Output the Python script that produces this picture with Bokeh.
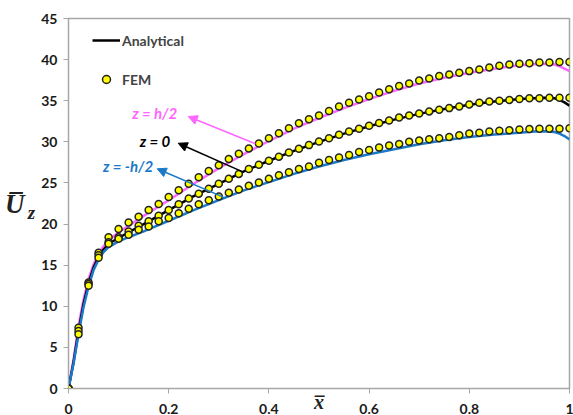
from bokeh.plotting import figure
from bokeh.models import (ColumnDataSource, Label, Legend, LegendItem, Arrow, NormalHead,
                          FixedTicker, CustomJSTickFormatter, LinearAxis)
from bokeh.embed import file_html
from bokeh.resources import INLINE

# ---------------- data ----------------
x_fem = [round(0.02 * i, 2) for i in range(51)]

fem_top = [0.0, 7.4, 12.9, 16.5, 18.4, 19.4, 20.2, 20.9, 21.7, 22.45,
           23.3, 24.1, 24.9, 25.7, 26.45, 27.15, 27.9, 28.55, 29.2, 29.8,
           30.45, 31.05, 31.65, 32.25, 32.75, 33.2, 33.75, 34.3, 34.75, 35.15,
           35.55, 36.0, 36.4, 36.8, 37.1, 37.45, 37.7, 38.0, 38.2, 38.4,
           38.6, 38.8, 39.05, 39.25, 39.4, 39.5, 39.55, 39.65, 39.65, 39.7, 39.7]

fem_mid = [0.0, 7.0, 12.7, 16.2, 17.8, 18.4, 19.1, 19.8, 20.35, 21.0,
           21.7, 22.4, 23.1, 23.7, 24.3, 24.9, 25.5, 26.1, 26.7, 27.2,
           27.7, 28.2, 28.7, 29.15, 29.6, 30.05, 30.45, 30.85, 31.25, 31.6,
           31.95, 32.3, 32.6, 32.95, 33.2, 33.45, 33.7, 33.9, 34.1, 34.3,
           34.55, 34.75, 34.9, 35.0, 35.1, 35.2, 35.3, 35.3, 35.35, 35.35, 35.35]

fem_bot = [0.0, 6.6, 12.5, 15.9, 17.6, 18.2, 18.7, 19.3, 19.7, 20.35,
           20.75, 21.3, 21.85, 22.4, 22.9, 23.35, 23.8, 24.2, 24.65, 25.05,
           25.5, 25.95, 26.3, 26.7, 27.0, 27.45, 27.8, 28.1, 28.4, 28.75,
           29.0, 29.3, 29.55, 29.75, 30.0, 30.15, 30.3, 30.45, 30.6, 30.8,
           31.0, 31.1, 31.25, 31.35, 31.4, 31.5, 31.55, 31.6, 31.6, 31.6, 31.65]

x_an = [0, 0.01, 0.02, 0.03, 0.04, 0.05, 0.06, 0.07, 0.08, 0.10, 0.12, 0.15,
        0.2, 0.25, 0.3, 0.35, 0.4, 0.45, 0.5, 0.55, 0.6, 0.65, 0.7, 0.75,
        0.8, 0.85, 0.9, 0.93, 0.95, 0.97, 0.98, 0.99, 1.0]

an_top = [0, 3.5, 7.6, 10.8, 13.3, 15.1, 16.4, 17.3, 18.0, 19.0, 19.8, 21.0,
          22.9, 24.9, 26.8, 28.5, 30.1, 31.6, 32.9, 34.1, 35.2, 36.2, 37.1, 37.8,
          38.4, 38.9, 39.3, 39.45, 39.5, 39.4, 39.2, 38.9, 38.6]

an_mid = [0, 3.2, 7.0, 10.3, 12.8, 14.7, 16.0, 16.9, 17.6, 18.3, 19.0, 20.0,
          21.7, 23.4, 24.9, 26.4, 27.7, 28.9, 30.0, 31.0, 31.9, 32.7, 33.4, 34.0,
          34.5, 34.9, 35.2, 35.3, 35.35, 35.3, 35.1, 34.8, 34.4]

an_bot = [0, 3.0, 6.6, 9.9, 12.4, 14.4, 15.7, 16.6, 17.2, 17.9, 18.4, 19.1,
          20.4, 21.7, 22.9, 24.1, 25.1, 26.1, 27.0, 27.8, 28.5, 29.1, 29.7, 30.2,
          30.6, 30.9, 31.1, 31.25, 31.3, 31.2, 31.0, 30.7, 30.3]

x_ticks = [0, 0.2, 0.4, 0.6, 0.8, 1.0]
y_ticks = [0, 5, 10, 15, 20, 25, 30, 35, 40, 45]

# ---------------- styles ----------------
PINK = "#ff66ff"
BLACK = "#000000"
BLUE = "#1b7ac8"
GRAY = "#a6a6a6"
FONT = "Lato"
SERIF = "Liberation Serif"
INK = "#222222"

p = figure(width=573, height=415, output_backend="svg", toolbar_location=None,
           x_range=(0, 1), y_range=(0, 45),
           min_border_left=68, min_border_right=4, min_border_top=18, min_border_bottom=27)
p.xgrid.visible = False
p.ygrid.visible = False
p.outline_line_color = GRAY
p.outline_line_width = 1.5

for ax in (p.xaxis[0], p.yaxis[0]):
    ax.axis_line_color = GRAY
    ax.major_tick_line_color = GRAY
    ax.minor_tick_line_color = None
    ax.major_tick_in = 0
    ax.major_tick_out = 5
    ax.major_label_text_font = FONT
    ax.major_label_text_font_style = "bold"
    ax.major_label_text_font_size = "14px"
    ax.major_label_text_color = "#1a1a1a"
    ax.axis_label_text_font = SERIF
    ax.axis_label_text_font_style = "bold italic"
    ax.axis_label_text_color = INK

p.xaxis.ticker = FixedTicker(ticks=x_ticks)
p.yaxis.ticker = FixedTicker(ticks=y_ticks)
p.xaxis.formatter = CustomJSTickFormatter(code="return tick == 0 ? '0' : (tick == 1 ? '1' : tick.toFixed(1));")
p.xaxis.major_label_standoff = 10
p.yaxis.major_label_standoff = 6

# x-axis title: overlined x, sitting on the tick-label row
p.xaxis.axis_label = "x\u0305"
p.xaxis.axis_label_text_font_size = "20px"
p.xaxis.axis_label_standoff = -26

# y-axis title: overlined U with subscript z (z on the inner axis, U on an outer one);
# leading blank lines push each piece down to its place
p.yaxis.axis_label = "\n\nz"
p.yaxis.axis_label_orientation = "horizontal"
p.yaxis.axis_label_text_font_size = "19px"
p.yaxis.axis_label_text_line_height = 0.45
p.yaxis.axis_label_standoff = 3

outer = LinearAxis(ticker=FixedTicker(ticks=[]), axis_line_color=None,
                   major_tick_line_color=None, minor_tick_line_color=None,
                   major_tick_out=0, major_tick_in=0, major_label_standoff=0,
                   axis_label="\nU\u0305", axis_label_orientation="horizontal",
                   axis_label_standoff=0, axis_label_text_font=SERIF,
                   axis_label_text_font_style="bold italic",
                   axis_label_text_line_height=0.05,
                   axis_label_text_font_size="27px", axis_label_text_color=INK)
p.add_layout(outer, "left")

lw = 2.5
r_top = p.line(x_an, an_top, line_color=PINK, line_width=lw)
r_mid = p.line(x_an, an_mid, line_color=BLACK, line_width=lw)
r_bot = p.line(x_an, an_bot, line_color=BLUE, line_width=lw)

src = ColumnDataSource(dict(x=x_fem, top=fem_top, mid=fem_mid, bot=fem_bot))
sc = None
for col in ("top", "mid", "bot"):
    sc = p.scatter("x", col, source=src, size=7, fill_color="#ffff00",
                   line_color=INK, line_width=1.5)

legend = Legend(items=[LegendItem(label="Analytical", renderers=[r_mid]),
                       LegendItem(label="FEM", renderers=[sc])],
                location=(24, 299), padding=0, margin=0, spacing=19,
                label_height=20, glyph_height=20, glyph_width=28, label_standoff=2,
                label_text_font=FONT, label_text_font_style="bold",
                label_text_font_size="14px",
                background_fill_alpha=0, border_line_alpha=0)
p.add_layout(legend)

# annotation texts with arrows
ann = [("z = h/2", PINK, 0.217, 33.45, 0.373, 29.76, 0.239, 33.08),
       ("z = 0", BLACK, 0.203, 30.08, 0.349, 26.31, 0.219, 29.83),
       ("z = -h/2", BLUE, 0.169, 27.12, 0.309, 23.27, 0.177, 26.72)]
for txt, col, tx, ty, x0, y0, x1, y1 in ann:
    p.add_layout(Label(x=tx, y=ty, text=txt, text_color=col, text_font=FONT,
                       text_font_style="bold italic", text_font_size="15px",
                       text_align="right", text_baseline="middle"))
    p.add_layout(Arrow(x_start=x0, y_start=y0, x_end=x1, y_end=y1,
                       line_color=col, line_width=1.5,
                       end=NormalHead(size=9, fill_color=col, line_color=col)))

open("out.html", "w").write(file_html(p, INLINE))
